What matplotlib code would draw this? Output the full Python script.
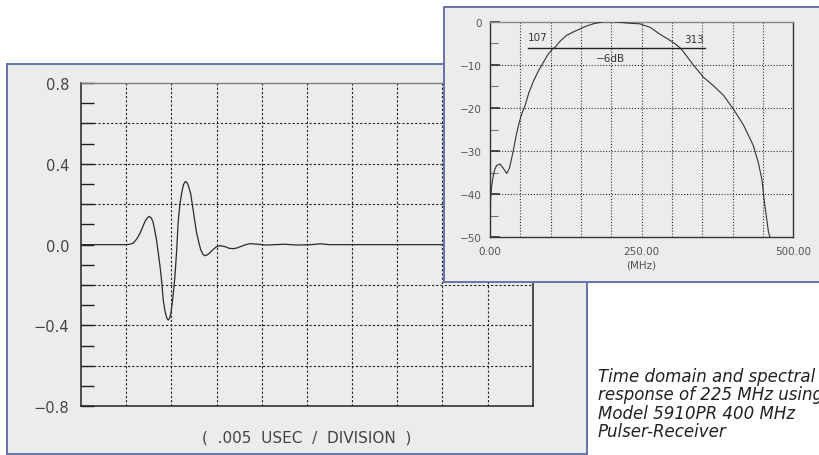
import matplotlib
matplotlib.use("Agg")
import matplotlib.pyplot as plt
import numpy as np

# ---------------- data ----------------
# time domain trace (x in divisions of .005 usec)
time_div = [0.0, 1.0, 1.08, 1.16, 1.24, 1.31, 1.37, 1.42, 1.47, 1.51, 1.55, 1.59,
            1.63, 1.67, 1.71, 1.75, 1.79, 1.82, 1.86, 1.90, 1.93, 1.96, 1.99,
            2.03, 2.08, 2.12, 2.15, 2.19, 2.23, 2.27, 2.31, 2.35, 2.38, 2.43,
            2.47, 2.52, 2.56, 2.61, 2.65, 2.70, 2.74, 2.80, 2.85, 2.92, 2.99,
            3.08, 3.19, 3.28, 3.37, 3.46, 3.55, 3.65, 3.74, 3.92, 4.10, 4.30,
            4.50, 4.80, 5.10, 5.30, 5.50, 6.00, 10.0]
amplitude = [0.0, 0.0, 0.002, 0.008, 0.03, 0.058, 0.09, 0.116, 0.133, 0.140, 0.133,
             0.116, 0.075, 0.025, -0.04, -0.108, -0.19, -0.273, -0.33, -0.364,
             -0.373, -0.365, -0.34, -0.27, -0.157, -0.02, 0.108, 0.2, 0.257, 0.298,
             0.313, 0.306, 0.29, 0.25, 0.19, 0.115, 0.058, 0.01, -0.025, -0.048,
             -0.055, -0.05, -0.041, -0.025, -0.012, -0.005, -0.01, -0.018, -0.02,
             -0.016, -0.008, 0.0, 0.005, 0.002, -0.002, 0.0, 0.002, -0.002, 0.0,
             0.004, 0.0, 0.0, 0.0]

# spectrum (MHz, dB)
freq_mhz = [0, 1, 3, 5.5, 8, 11, 16.5, 22, 27.5, 32, 38, 43, 47, 52, 58, 64, 71, 79,
            88, 96, 104, 107, 115, 126, 137, 148, 159, 170, 187, 203, 225, 247,
            264, 280, 292, 302, 313, 319, 335, 352, 368, 385, 401, 418, 434, 442,
            448, 453, 459, 461.5]
level_db = [-50, -41, -37.9, -35.6, -34.2, -33.3, -33.0, -34.0, -35.2, -34.0, -30.2,
            -26.5, -24.0, -21.5, -19.4, -16.5, -14.0, -11.6, -9.4, -7.5, -6.2, -6.0,
            -4.6, -3.2, -2.4, -1.7, -1.0, -0.5, 0.0, 0.0, -0.3, -0.5, -1.3, -2.9,
            -3.9, -4.8, -6.0, -7.0, -10.0, -12.9, -14.8, -17.1, -20.2, -24.0,
            -28.7, -32.5, -36.4, -42.5, -48.7, -50]

left_ytick_labels = ["0.8", "0.4", "0.0", "\u22120.4", "\u22120.8"]
left_ytick_values = [0.8, 0.4, 0.0, -0.4, -0.8]
inset_ytick_values = [0, -10, -20, -30, -40, -50]
inset_ytick_labels = ["0", "\u221210", "\u221220", "\u221230", "\u221240", "\u221250"]
inset_xtick_values = [0, 250, 500]
inset_xtick_labels = ["0.00", "250.00", "500.00"]
bw_low, bw_high, bw_level = 107, 313, -6
caption = ["Time domain and spectral", "response of 225 MHz using",
           "Model 5910PR 400 MHz", "Pulser-Receiver"]

# ---------------- layout helpers ----------------
W, H = 820, 456
def rect(x0, y0, x1, y1):
    return [x0 / W, 1 - y1 / H, (x1 - x0) / W, (y1 - y0) / H]

fig = plt.figure(figsize=(8.2, 4.56), dpi=100)
fig.patch.set_facecolor("white")

panel_bg = "#ececec"
panel_edge = "#6473ab"
grid_col = "#222222"
txt_col = "#444444"

def panel(r, z):
    ax = fig.add_axes(r, zorder=z)
    ax.set_facecolor(panel_bg)
    ax.set_xticks([]); ax.set_yticks([])
    for s in ax.spines.values():
        s.set_color(panel_edge)
        s.set_linewidth(1.4)
    return ax

# ---------------- left panel ----------------
panel(rect(7, 65, 587, 455), 0)
ax1 = fig.add_axes(rect(81, 84, 532.7, 407.3), zorder=1)
ax1.patch.set_alpha(0)
ax1.set_xlim(0, 10)
ax1.set_ylim(-0.8, 0.8)
dash = (0, (2.0, 1.8))
for x in range(1, 10):
    ax1.axvline(x, color=grid_col, lw=0.8, ls=dash, zorder=1)
for y in [0.6, 0.4, 0.2, -0.2, -0.4, -0.6]:
    ax1.axhline(y, color=grid_col, lw=0.8, ls=dash, zorder=1)
ax1.plot(time_div, amplitude, color="#2a2a2a", lw=0.9, zorder=3)
ax1.set_yticks(left_ytick_values)
ax1.set_yticklabels(left_ytick_labels)
ax1.set_yticks(np.arange(-0.7, 0.75, 0.1), minor=True)
ax1.tick_params(axis="y", which="both", direction="in", length=9, width=1.0,
                color="#222222", labelsize=10.5, labelcolor=txt_col, pad=8.5)
ax1.set_xticks([])
for k in ["left", "bottom", "right"]:
    ax1.spines[k].set_color("#222222")
    ax1.spines[k].set_linewidth(1.1)
ax1.spines["top"].set_color("#777777")
ax1.spines["top"].set_linewidth(0.9)
fig.text(307 / W, 1 - 438 / H, "(  .005  USEC  /  DIVISION  )", ha="center",
         va="center", fontsize=11, color=txt_col)

# ---------------- inset panel ----------------
panel(rect(444, 8, 824, 283), 2)
ax2 = fig.add_axes(rect(490, 22.7, 793.3, 238.3), zorder=3)
ax2.patch.set_alpha(0)
ax2.set_xlim(0, 500)
ax2.set_ylim(-50, 0)
dot = (0, (1, 1.6))
for x in range(50, 500, 50):
    ax2.axvline(x, color="#333333", lw=0.8, ls=dot, zorder=1)
for y in [-10, -20, -30, -40]:
    ax2.axhline(y, color="#333333", lw=0.8, ls=dot, zorder=1)
ax2.plot(freq_mhz, level_db, color="#333333", lw=0.8, zorder=3)
ax2.plot([63, 355], [bw_level, bw_level], color="#222222", lw=1.0, zorder=3)
ax2.text(79, -3.6, str(bw_low), fontsize=7.5, color="#333333", ha="center", va="center")
ax2.text(337, -4.0, str(bw_high), fontsize=7.5, color="#333333", ha="center", va="center")
ax2.text(198, -8.4, "\u22126dB", fontsize=7.5, color="#333333", ha="center", va="center")
ax2.set_yticks(inset_ytick_values)
ax2.set_yticklabels(inset_ytick_labels)
ax2.set_yticks(np.arange(-45, 0, 10), minor=True)
ax2.tick_params(axis="y", which="major", direction="in", length=7, width=1.1,
                color="#222222", labelsize=7.5, labelcolor="#555555", pad=6)
ax2.tick_params(axis="y", which="minor", direction="in", length=6, width=0.8,
                color="#777777")
ax2.set_xticks(inset_xtick_values)
ax2.set_xticklabels(inset_xtick_labels)
ax2.tick_params(axis="x", direction="in", length=0, labelsize=7.5,
                labelcolor="#555555", pad=6)
for k in ["left", "bottom", "right", "top"]:
    ax2.spines[k].set_color("#333333")
    ax2.spines[k].set_linewidth(1.0)
ax2.spines["top"].set_color("#888888")
fig.text(641 / W, 1 - 266 / H, "(MHz)", ha="center", va="center",
         fontsize=7.5, color="#555555")

# ---------------- caption ----------------
for i, line in enumerate(caption):
    fig.text(598 / W, 1 - (377 + 18.3 * i) / H, line, ha="left", va="center",
             fontsize=12, style="italic", family="DejaVu Sans", color="#222222")

fig.savefig("out.png", dpi=100, facecolor="white")
